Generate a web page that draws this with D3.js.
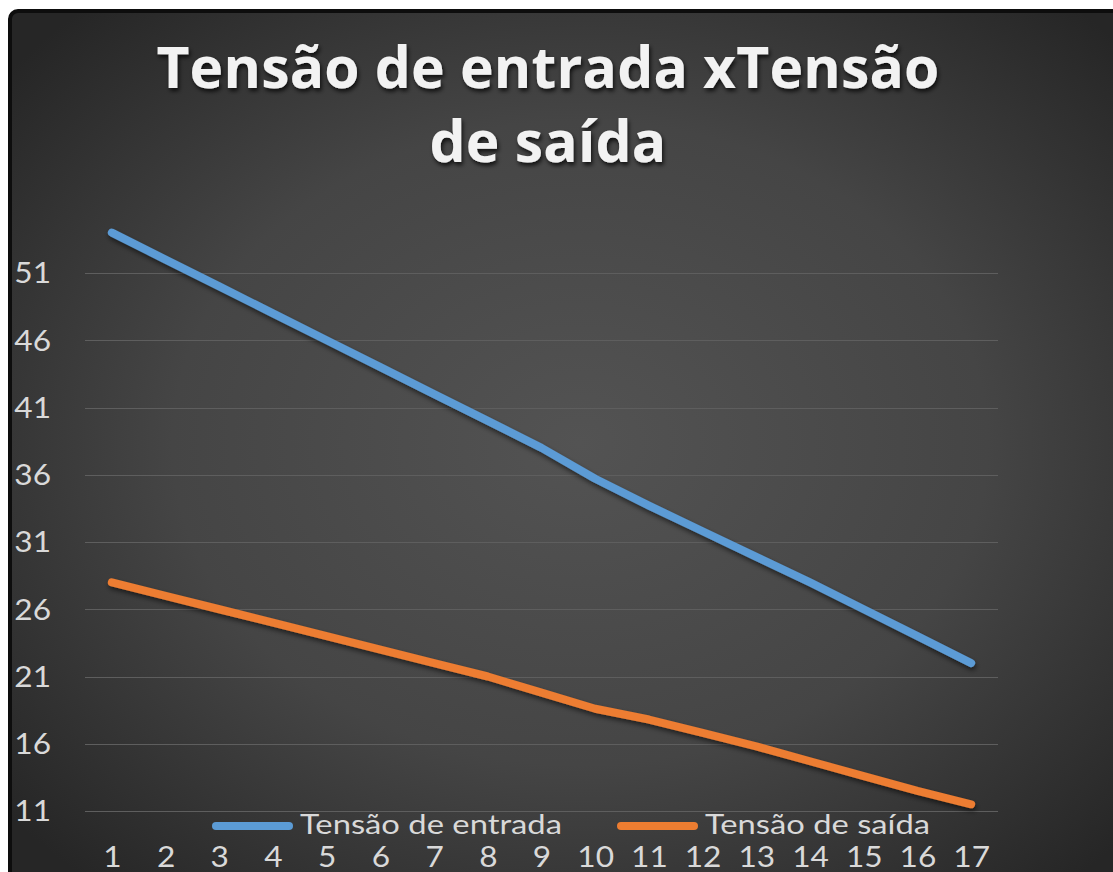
<!DOCTYPE html>
<html>
<head>
<meta charset="utf-8">
<script src="https://cdn.jsdelivr.net/npm/d3@7"></script>
<style>
  html, body { margin: 0; padding: 0; background: #ffffff; overflow: hidden; }
  svg { display: block; }
</style>
</head>
<body>
<svg id="chart" width="1113" height="872"></svg>
<script>
// ---- data ----
const categories = ["1","2","3","4","5","6","7","8","9","10","11","12","13","14","15","16","17"];
const entrada = [54, 52, 50, 48, 46, 44, 42, 40, 38, 35.7, 33.7, 31.8, 29.9, 28, 26, 24, 22];
const saida   = [28, 27, 26, 25, 24, 23, 22, 21, 19.8, 18.6, 17.8, 16.8, 15.8, 14.7, 13.6, 12.5, 11.5];
const yTicks  = [11, 16, 21, 26, 31, 36, 41, 46, 51];
const seriesNames = ["Tensão de entrada", "Tensão de saída"];
const titleLines = ["Tensão de entrada xTensão", "de saída"];

const colors = ["#5b9bd5", "#ed7d31"];
const svg = d3.select("#chart");
const defs = svg.append("defs");
const labelFont = "Lato, 'Open Sans', sans-serif";
const stretch = 1.13;

// background gradient
const rg = defs.append("radialGradient").attr("id", "bg")
  .attr("cx", "50%").attr("cy", "48%").attr("r", "65%");
rg.append("stop").attr("offset", "0%").attr("stop-color", "#535353");
rg.append("stop").attr("offset", "55%").attr("stop-color", "#454545");
rg.append("stop").attr("offset", "100%").attr("stop-color", "#262626");

const sh = defs.append("filter").attr("id", "shadow")
  .attr("x", "-10%").attr("y", "-10%").attr("width", "130%").attr("height", "140%");
sh.append("feDropShadow").attr("dx", 1).attr("dy", 3).attr("stdDeviation", 2.5)
  .attr("flood-color", "#000").attr("flood-opacity", 0.55);

const tsh = defs.append("filter").attr("id", "tshadow")
  .attr("x", "-5%").attr("y", "-20%").attr("width", "110%").attr("height", "150%");
tsh.append("feDropShadow").attr("dx", 1.5).attr("dy", 3).attr("stdDeviation", 2)
  .attr("flood-color", "#000").attr("flood-opacity", 0.75);

// chart frame
svg.append("rect").attr("x", 10).attr("y", 11).attr("width", 1140).attr("height", 900)
  .attr("rx", 8).attr("fill", "url(#bg)").attr("stroke", "#0d0d0d").attr("stroke-width", 4);

// scales
const x = d3.scalePoint().domain(categories).range([85, 998]).padding(0.5);
const y = d3.scaleLinear().domain([11, 56]).range([811, 205.75]);

// gridlines
svg.append("g").selectAll("line").data(yTicks).join("line")
  .attr("x1", 85).attr("x2", 998)
  .attr("y1", d => Math.round(y(d)) + 0.5).attr("y2", d => Math.round(y(d)) + 0.5)
  .attr("stroke", "#5e5e5e").attr("stroke-width", 1);

// y axis labels
const yAxis = d3.axisLeft(y).tickValues(yTicks).tickSize(0).tickPadding(0);
const yg = svg.append("g").attr("transform", "translate(51,0)").call(yAxis);
yg.select(".domain").remove();
yg.selectAll("text").attr("fill", "#d9d9d9")
  .style("font-family", labelFont).style("font-size", "28px")
  .attr("dy", "0.35em").attr("transform", `scale(${stretch},1)`);

// x axis labels
const xAxis = d3.axisBottom(x).tickSize(0).tickPadding(0);
const xg = svg.append("g").attr("transform", "translate(0,847)").call(xAxis);
xg.select(".domain").remove();
xg.selectAll("text").attr("fill", "#d9d9d9")
  .style("font-family", labelFont).style("font-size", "28px")
  .attr("dy", "0.72em").attr("transform", `scale(${stretch},1)`);

// lines
const line = d3.line().x((d, i) => x(categories[i])).y(d => y(d));
[entrada, saida].forEach((s, k) => {
  svg.append("path").datum(s).attr("d", line)
    .attr("fill", "none").attr("stroke", colors[k]).attr("stroke-width", 8)
    .attr("stroke-linecap", "round").attr("stroke-linejoin", "round")
    .attr("filter", "url(#shadow)");
});

// legend
const legendPos = [{x0: 212, x1: 293, tx: 300, w: 262}, {x0: 617, x1: 698, tx: 705, w: 225}];
const legendY = 826;
seriesNames.forEach((name, k) => {
  const p = legendPos[k];
  svg.append("line").attr("x1", p.x0 + 4).attr("x2", p.x1 - 4)
    .attr("y1", legendY).attr("y2", legendY)
    .attr("stroke", colors[k]).attr("stroke-width", 8).attr("stroke-linecap", "round");
  svg.append("text").attr("x", p.tx).attr("y", legendY).attr("dy", "0.3em")
    .attr("fill", "#d9d9d9")
    .attr("textLength", p.w).attr("lengthAdjust", "spacingAndGlyphs")
    .style("font-family", labelFont).style("font-size", "27px")
    .text(name);
});

// title
const titleY = [88, 162];
const tg = svg.append("g").attr("filter", "url(#tshadow)");
titleLines.forEach((t, i) => {
  tg.append("text").attr("x", 548).attr("y", titleY[i]).attr("text-anchor", "middle")
    .attr("fill", "#f2f2f2")
    .style("font-family", "'Open Sans', 'Noto Sans', sans-serif").style("font-weight", 700)
    .style("font-size", "57px").style("letter-spacing", "0.2px")
    .text(t);
});
</script>
</body>
</html>
